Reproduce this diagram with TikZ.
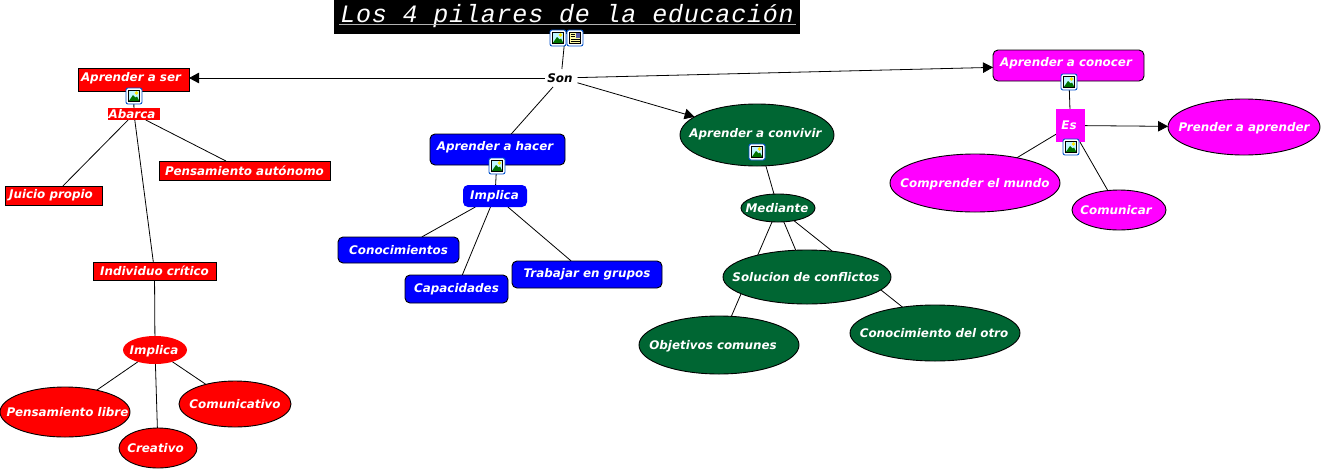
\documentclass[tikz,border=0pt]{standalone}
\usepackage{fontspec}
\setmainfont{DejaVu Sans}
\newfontfamily\titlefont[LetterSpace=3.2]{Liberation Mono}
\usetikzlibrary{arrows.meta,shapes.geometric,backgrounds}
\definecolor{cgreen}{HTML}{006633}
\definecolor{cmag}{HTML}{FF00FF}
\definecolor{cblue}{HTML}{0000FF}
\definecolor{cred}{HTML}{FF0000}
\newcommand{\up}[2]{\raisebox{#1pt}[0pt][0pt]{#2}}
\newcommand{\E}[2][0]{\makebox[0pt]{\raisebox{#1pt}[0pt][0pt]{\raisebox{-4pt}{#2}}}}
\newcommand{\photoicon}[2]{%
  \begin{scope}[shift={(#1,#2)}]
    \draw[draw=blue!60!cyan!80!black,line width=.9,fill=white,rounded corners=2] (-8,-8) rectangle (8,8);
    \fill[blue!15!cyan!25!white] (-5.5,-5.5) rectangle (5.5,5.5);
    \fill[yellow!90!orange] (2.5,-3) circle (1.8);
    \fill[green!45!black] (-5.5,5.5) -- (-1,-1) -- (1.5,1.5) -- (3,.5) -- (5.5,5.5) -- cycle;
    \draw[black,line width=.6] (-5.5,-5.5) rectangle (5.5,5.5);
  \end{scope}}
\newcommand{\texticon}[2]{%
  \begin{scope}[shift={(#1,#2)}]
    \draw[draw=blue!60!cyan!80!black,line width=.9,fill=white,rounded corners=2] (-8,-8) rectangle (8,8);
    \fill[yellow!35!white] (-5.5,-5.5) rectangle (5.5,5.5);
    \fill[blue!30!gray] (.5,-5) rectangle (5,0);
    \draw[black,line width=.7] (-4.5,-4) -- (-.5,-4) (-4.5,-1.5) -- (-.5,-1.5) (-4.5,1) -- (4.5,1) (-4.5,3.5) -- (4.5,3.5);
    \draw[black,line width=.6] (-5.5,-5.5) rectangle (5.5,5.5);
  \end{scope}}
\tikzset{
  x=1pt,y=-1pt,
  every node/.style={font=\fontsize{11.9}{13}\selectfont\bfseries\itshape,text=white,inner sep=0pt,outer sep=0pt},
  rbox/.style={rectangle,draw=black,line width=.9,fill=#1},
  rrbox/.style={rectangle,rounded corners=5,draw=black,line width=.9,fill=#1},
  ell/.style={ellipse,draw=black,line width=.9,fill=#1},
  link/.style={fill=#1},
  conn/.style={draw=black,line width=.8},
  arr/.style={conn,-{Triangle[length=10pt,width=10.5pt]}},
}
\begin{document}
\begin{tikzpicture}
\useasboundingbox (0,0) rectangle (1324,469);
% title
\node[fill=black,minimum width=466,minimum height=34,font=\titlefont\itshape\fontsize{25}{26}\selectfont] (title) at (567,17) {\up{-5}{Los 4 pilares de la educación}};
\draw[gray!60!white,line width=1.1] (339,24.5) -- (796,24.5);
% red
\node[rbox=cred,minimum width=111,minimum height=23] (ser) at (133.5,79.5) {\hspace{-5pt}\up{-2}{Aprender a ser}};
\node[link=cred,minimum width=52,minimum height=12] (abarca) at (134,114) {\hspace{-4pt}\up{-4}{Abarca}};
\node[rbox=cred,minimum width=97,minimum height=19] (juicio) at (53.5,195.5) {\hspace{-5pt}Juicio propio};
\node[rbox=cred,minimum width=171,minimum height=19] (autonomo) at (244.5,170.5) {Pensamiento autónomo};
\node[rbox=cred,minimum width=123,minimum height=18] (critico) at (154.5,271) {Individuo crítico};
\node[ell=cred,draw=none,minimum width=64,minimum height=28] (implicar) at (155,350) {\E{\hspace*{-2pt}Implica}};
\node[ell=cred,minimum width=130,minimum height=50] (libre) at (65,412) {\E{\hspace*{5pt}Pensamiento libre}};
\node[ell=cred,minimum width=78,minimum height=40] (creativo) at (158,448) {\E{\hspace*{-5pt}Creativo}};
\node[ell=cred,minimum width=112,minimum height=46] (comunicativo) at (235,404) {\E{Comunicativo}};
% blue
\node[rrbox=cblue,minimum width=135,minimum height=31] (hacer) at (497.5,149.5) {\hspace{-5pt}\up{-1}{Aprender a hacer}};
\node[rrbox=cblue,draw=none,minimum width=64,minimum height=22] (implicab) at (495,196) {\hspace{-1pt}Implica};
\node[rrbox=cblue,minimum width=121,minimum height=26] (conoc) at (398.5,250) {Conocimientos};
\node[rrbox=cblue,minimum width=103,minimum height=28] (capac) at (456.5,289) {Capacidades};
\node[rrbox=cblue,minimum width=150,minimum height=27] (trabajar) at (587,274.5) {Trabajar en grupos};
% green
\node[ell=cgreen,minimum width=154,minimum height=62] (convivir) at (757,135) {\E[2]{\hspace*{-3pt}Aprender a convivir}};
\node[ell=cgreen,minimum width=74,minimum height=28] (mediante) at (778,208) {\E{\hspace*{-2pt}Mediante}};
\node[ell=cgreen,minimum width=168,minimum height=54] (solucion) at (807,277) {\E{\hspace*{-2pt}Solucion de conflictos}};
\node[ell=cgreen,minimum width=160,minimum height=58] (objetivos) at (719,345) {\E{\hspace*{-12pt}Objetivos comunes}};
\node[ell=cgreen,minimum width=170,minimum height=56] (otro) at (935,333) {\E{\hspace*{-2pt}Conocimiento del otro}};
% magenta
\node[rrbox=cmag,minimum width=151,minimum height=31] (conocer) at (1068.5,65.5) {\hspace{-5pt}\up{-1}{Aprender a conocer}};
\node[link=cmag,minimum width=29,minimum height=33] (es) at (1070.5,125.5) {\hspace{-3pt}Es};
\node[ell=cmag,minimum width=152,minimum height=56] (prender) at (1244,127) {\E{Prender a aprender}};
\node[ell=cmag,minimum width=170,minimum height=58] (mundo) at (975,183) {\E{Comprender el mundo}};
\node[ell=cmag,minimum width=94,minimum height=40] (comunicar) at (1119,210) {\E{\hspace*{-6pt}Comunicar}};
% son
\node[text=black,minimum width=33,minimum height=18] (son) at (561,78) {\hspace{-2pt}Son};
\begin{scope}[on background layer]
  \fill[white] (0,0) rectangle (1324,469);
  \draw[conn] (title) -- (son);
  \draw[conn] (son) -- (hacer);
  \draw[conn] (ser) -- (abarca);
  \draw[conn] (abarca) -- (juicio);
  \draw[conn] (abarca) -- (autonomo);
  \draw[conn] (abarca) -- (critico);
  \draw[conn] (critico) -- (implicar);
  \draw[conn] (implicar) -- (libre);
  \draw[conn] (implicar) -- (creativo);
  \draw[conn] (implicar) -- (comunicativo);
  \draw[conn] (hacer) -- (implicab);
  \draw[conn] (implicab) -- (conoc);
  \draw[conn] (implicab) -- (capac);
  \draw[conn] (implicab) -- (trabajar);
  \draw[conn] (convivir) -- (mediante);
  \draw[conn] (mediante) -- (solucion);
  \draw[conn] (mediante) -- (objetivos);
  \draw[conn] (mediante) -- (otro);
  \draw[conn] (conocer) -- (es);
  \draw[conn] (es) -- (mundo);
  \draw[conn] (es) -- (comunicar);
\end{scope}
\draw[arr] (son.west) -- (son.west -| ser.east);
\draw[arr] (son) -- (conocer);
\draw[arr] (son) -- (convivir);
\draw[arr] (es) -- (prender);
% icons
\photoicon{558}{38}
\texticon{575}{38}
\photoicon{134}{96}
\photoicon{497}{166}
\photoicon{757}{152}
\photoicon{1069}{82}
\photoicon{1071}{147}
\end{tikzpicture}
\end{document}
